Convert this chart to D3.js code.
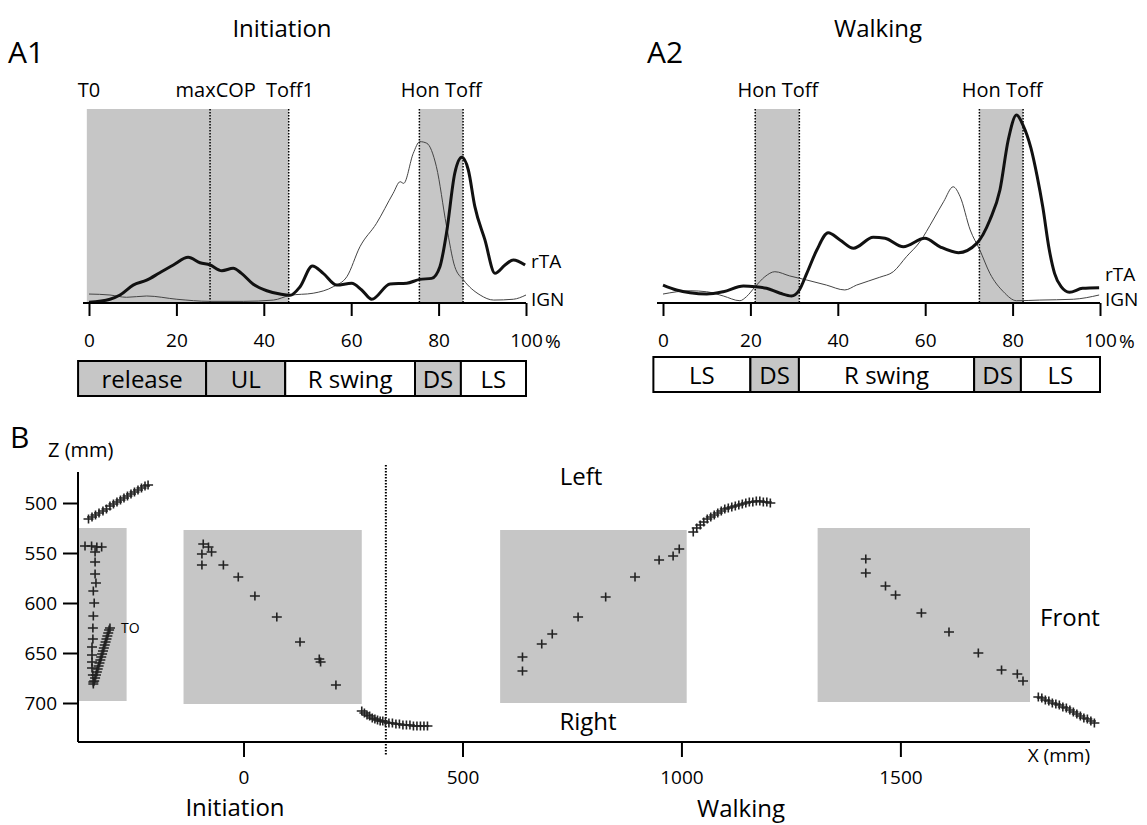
<!DOCTYPE html>
<html>
<head>
<meta charset="utf-8">
<script src="https://cdn.jsdelivr.net/npm/d3@7"></script>
<style>
body { margin: 0; background: #fff; }
svg { font-family: "Open Sans", sans-serif; }
</style>
</head>
<body>
<svg id="chart" width="1147" height="825"></svg>
<script>
// ---------- panel A data (percent of cycle, EMG in a.u.) ----------
var pctTicks = [0, 20, 40, 60, 80, 100];

var initRtaPct = [0,4.8,7.1,10.1,13.2,16.2,19.3,22.7,25.4,27.7,30.4,33,34.9,37.6,40.7,43.7,46,48.3,51.1,53.6,56.7,60.1,62.4,64.7,68.9,72.7,75.7,78.4,80.3,81.8,83.7,85.3,86.8,88.3,90.6,92.9,95.2,97.1,99.8];
var initRtaVal = [0.4,2.3,4.9,11,14,18.6,23.3,28,24.7,23.3,19.8,21.3,18.2,11.5,7.5,5.5,4.7,10,22.7,18.2,11,12.1,8,2.3,11.7,12.1,14.5,15.1,22.3,42.8,79.6,89.4,81.6,59.1,38.7,18.2,23.3,26.4,23.3];
var initGnPct = [0,4.8,8.6,13.2,20.1,27.7,35.3,42.2,46,51.3,55.9,59,62,65.8,69.6,71.2,72,74.2,75.7,77.3,79.5,81.8,83.7,85.7,89.5,92.6,97.1,100];
var initGnVal = [5.5,4.9,3.5,4.3,2.3,1,1,1.8,4.7,6,10,16.1,34.5,48.9,67.3,74.4,73.4,91.8,99,98,83.6,47.4,22.3,14.1,4.9,1.8,2.3,4.9];

var walkRtaPct = [0,3.1,6.2,10,13.8,18.4,21.1,23.7,26.8,29.4,31.2,32.9,35.2,37.8,40.5,43.6,48.1,50.8,55,59.9,63.4,67.6,71.8,74.8,77.1,79,80.9,82.4,84.2,85.6,86.9,88.4,89.6,91.1,93,96,99.8];
var walkRtaVal = [11,8,6.3,5.5,6.9,10.4,10,9,6,4.3,8,18.2,32.5,43.1,38.7,33.6,40.3,39.7,34.5,39.7,34.5,30.9,36.6,50.9,69.3,100,115.3,109,95,78,59,32.5,18.2,10,6.6,9,9.4];
var walkGnPct = [0,6.2,10,13.8,17.6,19.1,21.1,23.3,25.6,29,32.9,37.4,41.6,44.3,49.6,52.7,55.7,58.8,61.8,64.2,66.4,68,70.3,72.5,74.8,77.9,80.9,86.2,93.9,99.8];
var walkGnVal = [5.5,7.5,6.9,4.3,1.4,3.9,10,16.1,19.2,16.6,14.1,11,8,11,15.8,19.2,28.4,37.6,50.9,62.1,71.3,65.2,44.8,32.5,18.2,6.9,1.4,1.8,2.3,4.9];

// shaded intervals and event lines (percent)
var initShadeStart = [-0.5, 75.6];
var initShadeEnd = [45.7, 85.6];
var initEvents = [27.7, 45.7, 75.6, 85.6];
var initEventLabels = ["T0", "maxCOP", "Toff1", "Hon Toff"];
var initEventLabelPct = [0, 29, 46, 80.6];

var walkShadeStart = [21.1, 72.4];
var walkShadeEnd = [31.2, 82.4];
var walkEvents = [21.1, 31.2, 72.4, 82.4];
var walkEventLabels = ["Hon Toff", "Hon Toff"];
var walkEventLabelPct = [26.3, 77.6];

// phase bars
var initPhases = ["release", "UL", "R swing", "DS", "LS"];
var initPhaseBounds = [-2.5, 26.8, 44.9, 74.6, 85.1, 100];
var initPhaseShaded = [true, true, false, true, false];
var walkPhases = ["LS", "DS", "R swing", "DS", "LS"];
var walkPhaseBounds = [-2.2, 20, 31.1, 71.2, 81.9, 100];
var walkPhaseShaded = [false, true, false, true, false];

// ---------- panel B data (mm) ----------
var bXTicks = [0, 500, 1000, 1500];
var bZTicks = [500, 550, 600, 650, 700];
var bSplitX = 325;

var boxX0 = [-378, -137, 586, 1311];
var boxX1 = [-267, 270, 1012, 1796];
var boxZ0 = [525, 527, 527, 525];
var boxZ1 = [698, 701, 700, 699];

var swing0X = [-354,-346,-338,-330,-321,-313,-305,-297,-289,-281,-273,-265,-257,-249,-241,-233,-225,-218];
var swing0Z = [516,514,512,510,508,506,503,501,499,497,495,493,491,489,487,485,483,482];
var initColX = [-362,-347,-335,-324,-339,-339,-339,-337,-343,-341,-343,-344,-344,-346,-346,-346,-346,-344,-343];
var initColZ = [543,543,544,544,549,559,571,580,588,600,613,625,636,644,652,659,665,672,679];
var toX = [-343,-341,-339,-337,-335,-333,-331,-329,-327,-325,-323,-321,-319,-317,-315,-313,-311,-309,-307,-305];
var toZ = [681,678,675,672,669,666,663,660,657,654,651,648,645,642,639,636,633,630,627,625];
var stepAX = [-92,-80,-95,-73,-95,-46,-12,26,76,129,173,176,211];
var stepAZ = [541,544,551,549,562,562,574,593,614,639,656,659,682];
var swing1X = [270,276,282,288,294,300,306,312,318,324,332,340,348,356,364,372,380,388,396,404,412,420];
var swing1Z = [708,710,712,713,715,716,717,718,718,719,720,720,721,721,722,722,722,723,723,723,723,723];
var stepBX = [995,981,949,894,827,764,705,681,637,637];
var stepBZ = [546,553,557,574,594,614,631,641,654,668];
var swing2X = [1027,1035,1043,1051,1059,1067,1075,1083,1091,1099,1107,1115,1123,1131,1139,1147,1155,1163,1171,1179,1187,1195,1203];
var swing2Z = [529,525,522,519,516,514,512,510,508,506,505,504,503,502,501,500,499,499,498,498,499,499,500];
var stepCX = [1421,1421,1466,1489,1548,1611,1678,1731,1767,1780];
var stepCZ = [556,570,583,592,610,629,650,667,671,678];
var swing3X = [1815,1823,1831,1839,1847,1855,1863,1871,1879,1887,1895,1903,1911,1919,1927,1935,1943];
var swing3Z = [694,695,697,698,700,701,702,704,705,707,709,711,713,715,716,718,720];

// ---------- drawing ----------
var svg = d3.select('#chart');
var GRAY = '#c6c6c6';
var FONT = '"Open Sans", sans-serif';

var yA = d3.scaleLinear().domain([0, 100]).range([303, 140]);

function zip(px, vals) {
        return px.map(function (p, i) { return [p, vals[i]]; });
}

function drawEmg(x0, x1, o) {
        var x = d3.scaleLinear().domain([0, 100]).range([x0, x1]);
        var g = svg.append('g');

        // shaded periods
        o.shadeStart.forEach(function (s, i) {
                g.append('rect')
                        .attr('x', x(s)).attr('y', 109)
                        .attr('width', x(o.shadeEnd[i]) - x(s))
                        .attr('height', yA(0) - 109)
                        .attr('fill', GRAY);
        });
        // event lines
        g.selectAll('.ev').data(o.events).enter().append('line')
                .attr('x1', function (d) { return x(d); })
                .attr('x2', function (d) { return x(d); })
                .attr('y1', 109).attr('y2', yA(0))
                .attr('stroke', '#000').attr('stroke-width', 1.5)
                .attr('stroke-dasharray', '1.5,1.5');
        g.selectAll('.evl').data(o.eventLabels).enter().append('text')
                .attr('x', function (d, i) { return x(o.eventLabelPct[i]); })
                .attr('y', 97)
                .attr('text-anchor', 'middle')
                .attr('font-size', 20)
                .text(function (d) { return d; });

        var line = d3.line()
                .x(function (d) { return x(d[0]); })
                .y(function (d) { return yA(d[1]); })
                .curve(d3.curveMonotoneX);
        g.append('path').datum(zip(o.gnPct, o.gnVal))
                .attr('fill', 'none').attr('stroke', '#444').attr('stroke-width', 1)
                .attr('d', line);
        g.append('path').datum(zip(o.rtaPct, o.rtaVal))
                .attr('fill', 'none').attr('stroke', '#111').attr('stroke-width', 3)
                .attr('stroke-linejoin', 'round')
                .attr('d', line);

        g.append('text').attr('x', x1 + 5).attr('y', o.rtaLabelY)
                .attr('font-size', 19).text('rTA');
        g.append('text').attr('x', x1 + 5).attr('y', 306)
                .attr('font-size', 19).text('IGN');

        // axis
        var ax = g.append('g').attr('transform', 'translate(0,' + yA(0) + ')')
                .call(d3.axisBottom(x).tickValues(pctTicks).tickSize(13).tickPadding(18)
                        .tickFormat(function (d) { return d; }));
        ax.select('.domain').attr('d', 'M' + (x0 - 6) + ',0H' + x1).attr('stroke-width', 2);
        ax.selectAll('.tick line').attr('stroke-width', 2);
        ax.selectAll('.tick text').attr('font-size', 19).attr('font-family', FONT);
        ax.append('text').attr('x', x1 + 19).attr('y', 45).attr('fill', '#000')
                .attr('font-size', 19).attr('text-anchor', 'start')
                .attr('font-family', FONT).text('%');

        // phase bar
        var pb = g.append('g');
        o.phases.forEach(function (name, i) {
                var a = x(o.phaseBounds[i]), b = x(o.phaseBounds[i + 1]);
                pb.append('rect').attr('x', a).attr('y', o.barY).attr('width', b - a).attr('height', 35)
                        .attr('fill', o.phaseShaded[i] ? GRAY : '#fff')
                        .attr('stroke', '#000').attr('stroke-width', 2);
                pb.append('text').attr('x', (a + b) / 2).attr('y', o.barY + 27)
                        .attr('text-anchor', 'middle').attr('font-size', 24).text(name);
        });
}

drawEmg(89, 526, {
        rtaPct: initRtaPct, rtaVal: initRtaVal, gnPct: initGnPct, gnVal: initGnVal,
        shadeStart: initShadeStart, shadeEnd: initShadeEnd, events: initEvents,
        eventLabels: initEventLabels, eventLabelPct: initEventLabelPct,
        phases: initPhases, phaseBounds: initPhaseBounds, phaseShaded: initPhaseShaded,
        barY: 361, rtaLabelY: 268
});
drawEmg(663, 1100, {
        rtaPct: walkRtaPct, rtaVal: walkRtaVal, gnPct: walkGnPct, gnVal: walkGnVal,
        shadeStart: walkShadeStart, shadeEnd: walkShadeEnd, events: walkEvents,
        eventLabels: walkEventLabels, eventLabelPct: walkEventLabelPct,
        phases: walkPhases, phaseBounds: walkPhaseBounds, phaseShaded: walkPhaseShaded,
        barY: 357, rtaLabelY: 281
});

// titles
svg.append('text').attr('x', 282).attr('y', 37).attr('text-anchor', 'middle').attr('font-size', 24).text('Initiation');
svg.append('text').attr('x', 878).attr('y', 37).attr('text-anchor', 'middle').attr('font-size', 24).text('Walking');
svg.append('text').attr('x', 8).attr('y', 63).attr('font-size', 30).text('A1');
svg.append('text').attr('x', 647).attr('y', 63).attr('font-size', 30).text('A2');

// ---------- panel B ----------
var xB = d3.scaleLinear().domain([-378, 1933]).range([78, 1090]);
var yB = d3.scaleLinear().domain([469, 739]).range([472, 742]);
var gB = svg.append('g');

boxX0.forEach(function (b, i) {
        gB.append('rect')
                .attr('x', xB(b)).attr('y', yB(boxZ0[i]))
                .attr('width', xB(boxX1[i]) - xB(b))
                .attr('height', yB(boxZ1[i]) - yB(boxZ0[i]))
                .attr('fill', GRAY);
});

gB.append('line')
        .attr('x1', xB(bSplitX)).attr('x2', xB(bSplitX))
        .attr('y1', yB(462)).attr('y2', yB(752))
        .attr('stroke', '#000').attr('stroke-width', 2).attr('stroke-dasharray', '1.5,1.5');

var crossPath = 'M-5,0H5M0,-4.5V4.5';
function crosses(xs, zs) {
        gB.append('g').selectAll('path').data(zip(xs, zs)).enter().append('path')
                .attr('transform', function (d) { return 'translate(' + xB(d[0]) + ',' + yB(d[1]) + ')'; })
                .attr('d', crossPath)
                .attr('stroke', '#222').attr('stroke-width', 1.6).attr('fill', 'none');
}
crosses(swing0X, swing0Z);
crosses(initColX, initColZ);
crosses(toX, toZ);
crosses(stepAX, stepAZ);
crosses(swing1X, swing1Z);
crosses(stepBX, stepBZ);
crosses(swing2X, swing2Z);
crosses(stepCX, stepCZ);
crosses(swing3X, swing3Z);

var xAx = gB.append('g').attr('transform', 'translate(0,' + yB(739) + ')')
        .call(d3.axisBottom(xB).tickValues(bXTicks).tickSize(15).tickPadding(14).tickFormat(d3.format('d')));
var yAx = gB.append('g').attr('transform', 'translate(' + xB(-378) + ',0)')
        .call(d3.axisLeft(yB).tickValues(bZTicks).tickSize(15).tickPadding(6));
[xAx, yAx].forEach(function (a) {
        a.select('.domain').attr('stroke-width', 2);
        a.selectAll('.tick line').attr('stroke-width', 2);
        a.selectAll('.tick text').attr('font-size', 19).attr('font-family', FONT);
});
xAx.select('.domain').attr('d', 'M' + xB(-378) + ',0H' + xB(1933));
yAx.select('.domain').attr('d', 'M0,' + yB(469) + 'V' + yB(739));

gB.append('text').attr('x', 10).attr('y', 448).attr('font-size', 30).text('B');
gB.append('text').attr('x', 48).attr('y', 457).attr('font-size', 20).text('Z (mm)');
gB.append('text').attr('x', 1090).attr('y', 762).attr('text-anchor', 'end').attr('font-size', 19).text('X (mm)');
gB.append('text').attr('x', 581).attr('y', 485).attr('text-anchor', 'middle').attr('font-size', 24).text('Left');
gB.append('text').attr('x', 588).attr('y', 730).attr('text-anchor', 'middle').attr('font-size', 24).text('Right');
gB.append('text').attr('x', 1040).attr('y', 626).attr('font-size', 24).text('Front');
gB.append('text').attr('x', 121).attr('y', 633).attr('font-size', 14).text('TO');
gB.append('text').attr('x', 235).attr('y', 816).attr('text-anchor', 'middle').attr('font-size', 24).text('Initiation');
gB.append('text').attr('x', 741).attr('y', 817).attr('text-anchor', 'middle').attr('font-size', 24).text('Walking');
</script>
</body>
</html>
